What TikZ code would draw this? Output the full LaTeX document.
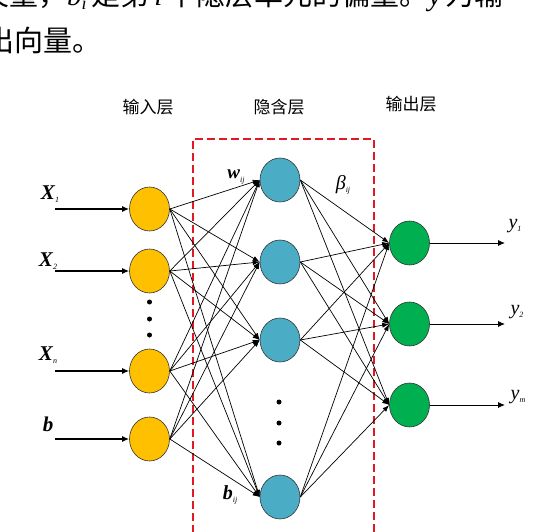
\documentclass[tikz,border=0pt]{standalone}
\usepackage{fontspec}
\setmainfont{Liberation Serif}
\newfontfamily\cjk{Noto Sans CJK SC}
\usetikzlibrary{arrows.meta,shapes.geometric}

\definecolor{inputfill}{RGB}{255,192,0}
\definecolor{hiddenfill}{RGB}{75,172,198}
\definecolor{outputfill}{RGB}{0,176,80}
\definecolor{boxred}{RGB}{225,25,35}

\tikzset{
  neuron/.style={ellipse,draw=black!80,line width=0.6pt,minimum width=40pt,
    minimum height=44pt,inner sep=0pt},
  link/.style={line width=0.7pt,-{Latex[length=7pt,width=5pt]}},
  inarrow/.style={line width=1.2pt,-{Latex[length=7pt,width=6pt]}},
  layername/.style={font=\cjk\fontsize{17}{17}\selectfont},
  varname/.style={font=\fontsize{21}{21}\selectfont\bfseries\itshape,inner sep=0pt},
}
% bold italic symbol with a small italic index
\newcommand{\sym}[2]{#1\raisebox{-0.35ex}{\fontsize{8}{8}\selectfont\mdseries\itshape #2}}

\begin{document}
\begin{tikzpicture}[x=1pt,y=-1pt]
\useasboundingbox (0,0) rectangle (536,532);
\clip (0,0) rectangle (536,532);

% the cut text above the figure
\node[anchor=base west,inner sep=0pt,font=\fontsize{29}{29}\selectfont] (textone) at (-20,6)
  {{\cjk 矢量，}\textit{b}\raisebox{-0.3ex}{\fontsize{18}{18}\selectfont\textit{i}}\,{\cjk 是第}\,\textit{i}\,{\cjk 个隐层单元的偏量。}\textit{y}\,{\cjk 为输}};
\node[anchor=base west,inner sep=0pt,font=\cjk\fontsize{29}{29}\selectfont] (texttwo) at (-15,52) {出向量。};

% layer titles
\node[layername] (titlein)  at (148,107) {输入层};
\node[layername] (titlehid) at (279,107) {隐含层};
\node[layername] (titleout) at (411,104) {输出层};

% hidden layer frame
\draw[boxred,line width=1.1pt,dash pattern=on 8pt off 4pt] (193,545) -- (193,139) -- (374,139) -- (374,545);

% neurons
\foreach \y [count=\i] in {209,271,371,439}
  \node[neuron,fill=inputfill] (in\i) at (149.5,\y) {};
\foreach \y [count=\i] in {180,262,340,497}
  \node[neuron,fill=hiddenfill] (hid\i) at (280,\y) {};
\foreach \y [count=\i] in {243,324,405}
  \node[neuron,fill=outputfill] (out\i) at (409.5,\y) {};

% dots for the left-out neurons
\foreach \y in {302,319,335} \fill (149.5,\y) circle (2.5pt);
\foreach \y in {402,423,443} \fill (279,\y) circle (2.5pt);

% weights: every neuron to every neuron of the next layer
\foreach \i in {1,...,4}
  \foreach \j in {1,...,4}
    \draw[link] (in\i.east) -- (hid\j.west);
\foreach \i in {1,...,4}
  \foreach \k in {1,...,3}
    \draw[link] (hid\i.east) -- (out\k.west);

% inputs
\foreach \y [count=\i] in {209,271,371,439}
  \coordinate (src\i) at (55,\y);
\draw[inarrow,line width=1.8pt] (src1) -- (in1.west);
\draw[inarrow] (src2) -- (in2.west);
\draw[inarrow] (src3) -- (in3.west);
\draw[inarrow,line width=1.8pt] (src4) -- (in4.west);
\node[varname] (lblx1) at (50,194) {\sym{X}{1}};
\node[varname] (lblx2) at (48,261) {\sym{X}{2}};
\node[varname] (lblxn) at (48,355) {\sym{X}{n}};
\node[varname] (lblb)  at (48,424) {b};

% outputs
\foreach \k in {1,...,3} {
  \coordinate (dst\k) at (505,{243+81*(\k-1)});
  \draw[inarrow,line width=0.9pt] (out\k.east) -- (dst\k);
}
\node[varname,font=\fontsize{20}{20}\selectfont\itshape] (lbly1) at (515,226) {\sym{y}{1}};
\node[varname,font=\fontsize{20}{20}\selectfont\itshape] (lbly2) at (517,312) {\sym{y}{2}};
\node[varname,font=\fontsize{20}{20}\selectfont\itshape] (lblym) at (518,397) {\sym{y}{m}};

% weight and bias names
\node[varname,font=\fontsize{19}{19}\selectfont\bfseries\itshape] (lblw) at (236,177) {\sym{w}{ij}};
\node[varname,font=\fontsize{20}{20}\selectfont\itshape] (lblbeta) at (343,185) {\sym{β}{ij}};
\node[varname,font=\fontsize{20}{20}\selectfont\bfseries\itshape] (lblbij) at (230,495) {\sym{b}{ij}};
\end{tikzpicture}
\end{document}
